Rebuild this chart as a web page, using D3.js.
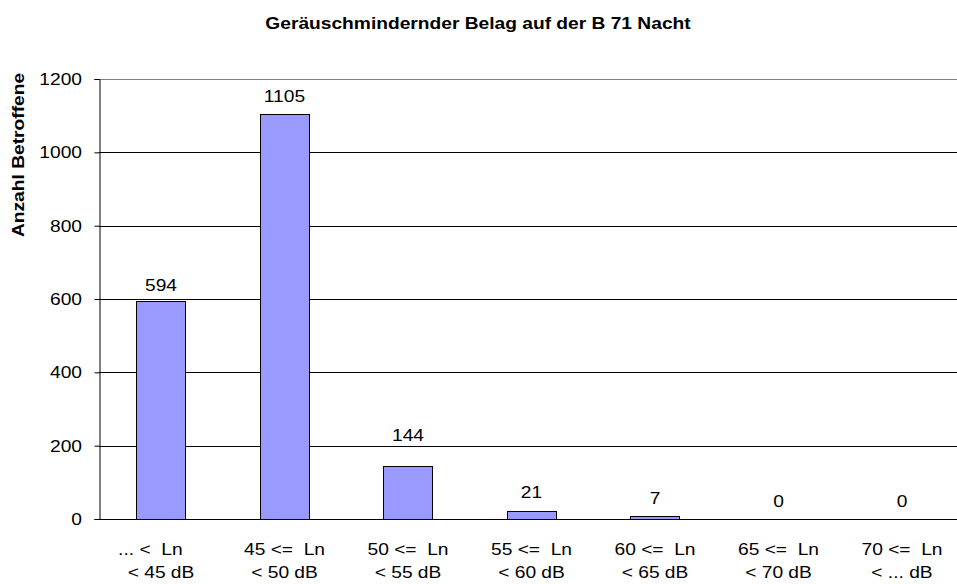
<!DOCTYPE html>
<html>
<head>
<meta charset="utf-8">
<script src="https://cdn.jsdelivr.net/npm/d3@7"></script>
<style>
  html, body { margin: 0; padding: 0; background: #fff; }
  svg { display: block; }
  text { font-family: "Liberation Sans", Arial, sans-serif; white-space: pre; }
</style>
</head>
<body>
<svg id="chart" width="957" height="584"></svg>
<script>
// chart data
var title = 'Geräuschmindernder Belag auf der B 71 Nacht';
var yTitle = 'Anzahl Betroffene';
var categoriesTop = ['... <  Ln    ', '45 <=  Ln', '50 <=  Ln', '55 <=  Ln', '60 <=  Ln', '65 <=  Ln', '70 <=  Ln'];
var categoriesBottom = ['< 45 dB', '< 50 dB', '< 55 dB', '< 60 dB', '< 65 dB', '< 70 dB', '< ... dB'];
var values = [594, 1105, 144, 21, 7, 0, 0];
var yTicks = [0, 200, 400, 600, 800, 1000, 1200];

// layout: how far each value label sits above its bar (px)
var labelLift = [10, 12, 25, 13, 12, 12, 12];

var svg = d3.select('#chart');
var margin = {left: 99, top: 79, bottom: 519};
var stretch = 1.2; // text in the original is drawn a bit wider than normal

var x = d3.scaleBand()
  .domain(d3.range(values.length))
  .range([99.25, 99.25 + 123.5 * values.length])
  .paddingInner(0.6)
  .paddingOuter(0.3);

var y = d3.scaleLinear()
  .domain([0, 1200])
  .range([margin.bottom, margin.top]);

// place a text, horizontally stretched in its own frame
function addText(parent, px, py, str, opts) {
  opts = opts || {};
  return parent.append('text')
    .attr('transform', `translate(${px},${py}) rotate(${opts.rotate || 0}) scale(${stretch},1)`)
    .attr('text-anchor', opts.anchor || 'middle')
    .attr('font-size', opts.size || 16)
    .attr('font-weight', opts.bold ? 'bold' : 'normal')
    .attr('fill', '#000')
    .text(str);
}

// gridlines
svg.append('g').selectAll('line')
  .data(yTicks)
  .enter().append('line')
    .attr('x1', margin.left)
    .attr('x2', 957)
    .attr('y1', d => Math.round(y(d)) + 0.5)
    .attr('y2', d => Math.round(y(d)) + 0.5)
    .attr('stroke', d => d === 1200 ? '#808080' : '#000')
    .attr('stroke-width', 1);

// bars
svg.append('g').selectAll('rect')
  .data(values)
  .enter().append('rect')
    .attr('x', (d, i) => Math.round(x(i)) + 0.5)
    .attr('y', d => Math.round(y(d)) + 0.5)
    .attr('width', Math.round(x.bandwidth()))
    .attr('height', d => Math.round(y(0)) - Math.round(y(d)))
    .attr('fill', '#9999ff')
    .attr('stroke', '#000')
    .attr('stroke-width', 1)
    .style('display', d => d > 0 ? null : 'none');

// y axis
var yAxis = svg.append('g')
  .attr('transform', `translate(${margin.left + 0.5},0)`)
  .call(d3.axisLeft(y).tickValues(yTicks).tickSize(5).tickFormat(''));
yAxis.select('.domain').attr('stroke', '#000');
yAxis.selectAll('.tick line').attr('stroke', '#000');
yAxis.selectAll('.tick').each(function(d) {
  addText(svg, 82, y(d) + 6, String(d), {anchor: 'end'});
});

// x axis line
svg.append('line')
  .attr('x1', margin.left).attr('x2', 957)
  .attr('y1', Math.round(y(0)) + 0.5).attr('y2', Math.round(y(0)) + 0.5)
  .attr('stroke', '#000');

// value labels
values.forEach(function(v, i) {
  addText(svg, x(i) + x.bandwidth() / 2, y(v) - labelLift[i], String(v));
});

// category labels
categoriesTop.forEach(function(c, i) {
  var cx = x(i) + x.bandwidth() / 2;
  addText(svg, cx, 555, c);
  addText(svg, cx, 578, categoriesBottom[i]);
});

// titles
addText(svg, 478, 29, title, {bold: true});
addText(svg, 24, 155, yTitle, {bold: true, rotate: -90});
</script>
</body>
</html>
